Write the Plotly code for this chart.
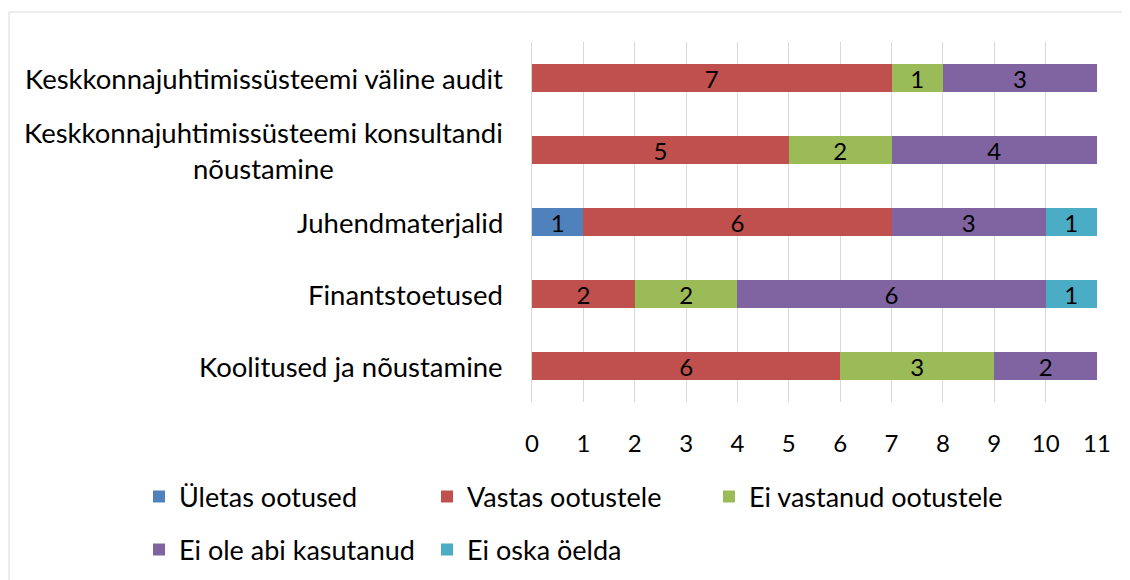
import plotly.graph_objects as go

categories = [
    "Koolitused ja nõustamine",
    "Finantstoetused",
    "Juhendmaterjalid",
    "Keskkonnajuhtimissüsteemi konsultandi<br>nõustamine",
    "Keskkonnajuhtimissüsteemi väline audit",
]
series_names = ["Ületas ootused", "Vastas ootustele", "Ei vastanud ootustele",
                "Ei ole abi kasutanud", "Ei oska öelda"]
uletas = [None, None, 1, None, None]
vastas = [6, 2, 6, 5, 7]
ei_vastanud = [3, 2, None, 2, 1]
ei_ole = [2, 6, 3, 4, 3]
ei_oska = [None, 1, 1, None, None]
x_ticks = list(range(0, 12))

colors = ["#4F81BD", "#C0504D", "#9BBB59", "#8064A2", "#4BACC6"]
all_values = [uletas, vastas, ei_vastanud, ei_ole, ei_oska]

FONT = "Lato"
# page body has an 8px margin, so the figure is sized/offset to compensate
W, H = 1122, 572
L, R, T, B = 524, 33, 34, 178
pw = W - L - R
ph = H - T - B

legend_names = ["legend", "legend2", "legend3", "legend4", "legend5"]
# legend entry positions (figure pixels): left edge, row center
legend_pos = [(131, 489), (419, 489), (701, 489), (131, 542), (419, 542)]

fig = go.Figure()
for i, (name, vals, col) in enumerate(zip(series_names, all_values, colors)):
    fig.add_trace(go.Bar(
        y=categories, x=vals, name=name, orientation="h",
        marker=dict(color=col, line=dict(width=0)),
        text=[("" if v is None else str(v)) for v in vals],
        textposition="inside", insidetextanchor="middle", textangle=0,
        constraintext="none",
        textfont=dict(family=FONT, size=24, color="#000000"),
        legend=legend_names[i],
    ))

for c in categories:
    fig.add_annotation(x=0, xref="paper", y=c, yref="y", text=c, showarrow=False,
                       xanchor="right", xshift=-27, align="center",
                       font=dict(family=FONT, size=27.5, color="#000000"))

# outer chart frame
fig.add_shape(type="rect", xref="paper", yref="paper",
              x0=(1 - L) / pw, x1=(W + 20 - L) / pw,
              y0=(H - B - (H + 20)) / ph, y1=(H - B - 4) / ph,
              line=dict(color="#D9D9D9", width=1), fillcolor="rgba(0,0,0,0)", layer="below")

legend_layouts = {}
for ln, (lx, ly) in zip(legend_names, legend_pos):
    legend_layouts[ln] = dict(
        orientation="h", xref="container", x=lx / W, xanchor="left",
        yref="container", y=1 - ly / H, yanchor="middle", traceorder="normal",
        font=dict(family=FONT, size=27, color="#000000"), bgcolor="rgba(0,0,0,0)")

fig.update_layout(
    width=W, height=H,
    margin=dict(l=L, r=R, t=T, b=B, autoexpand=False),
    barmode="stack", bargap=0.6,
    plot_bgcolor="white", paper_bgcolor="white",
    font=dict(family=FONT, size=20, color="#000000"),
    xaxis=dict(range=[0, 11], tickvals=x_ticks, ticktext=[str(t) for t in x_ticks],
               showgrid=True, gridcolor="#D9D9D9", gridwidth=1, zeroline=False,
               showline=False, ticks="", ticklabelstandoff=25,
               tickfont=dict(family=FONT, size=24, color="#000000")),
    yaxis=dict(showticklabels=False, showgrid=False, showline=True,
               linecolor="#D9D9D9", linewidth=1, ticks="", zeroline=False),
    showlegend=True,
    **legend_layouts,
)

fig.write_html("out.html")
